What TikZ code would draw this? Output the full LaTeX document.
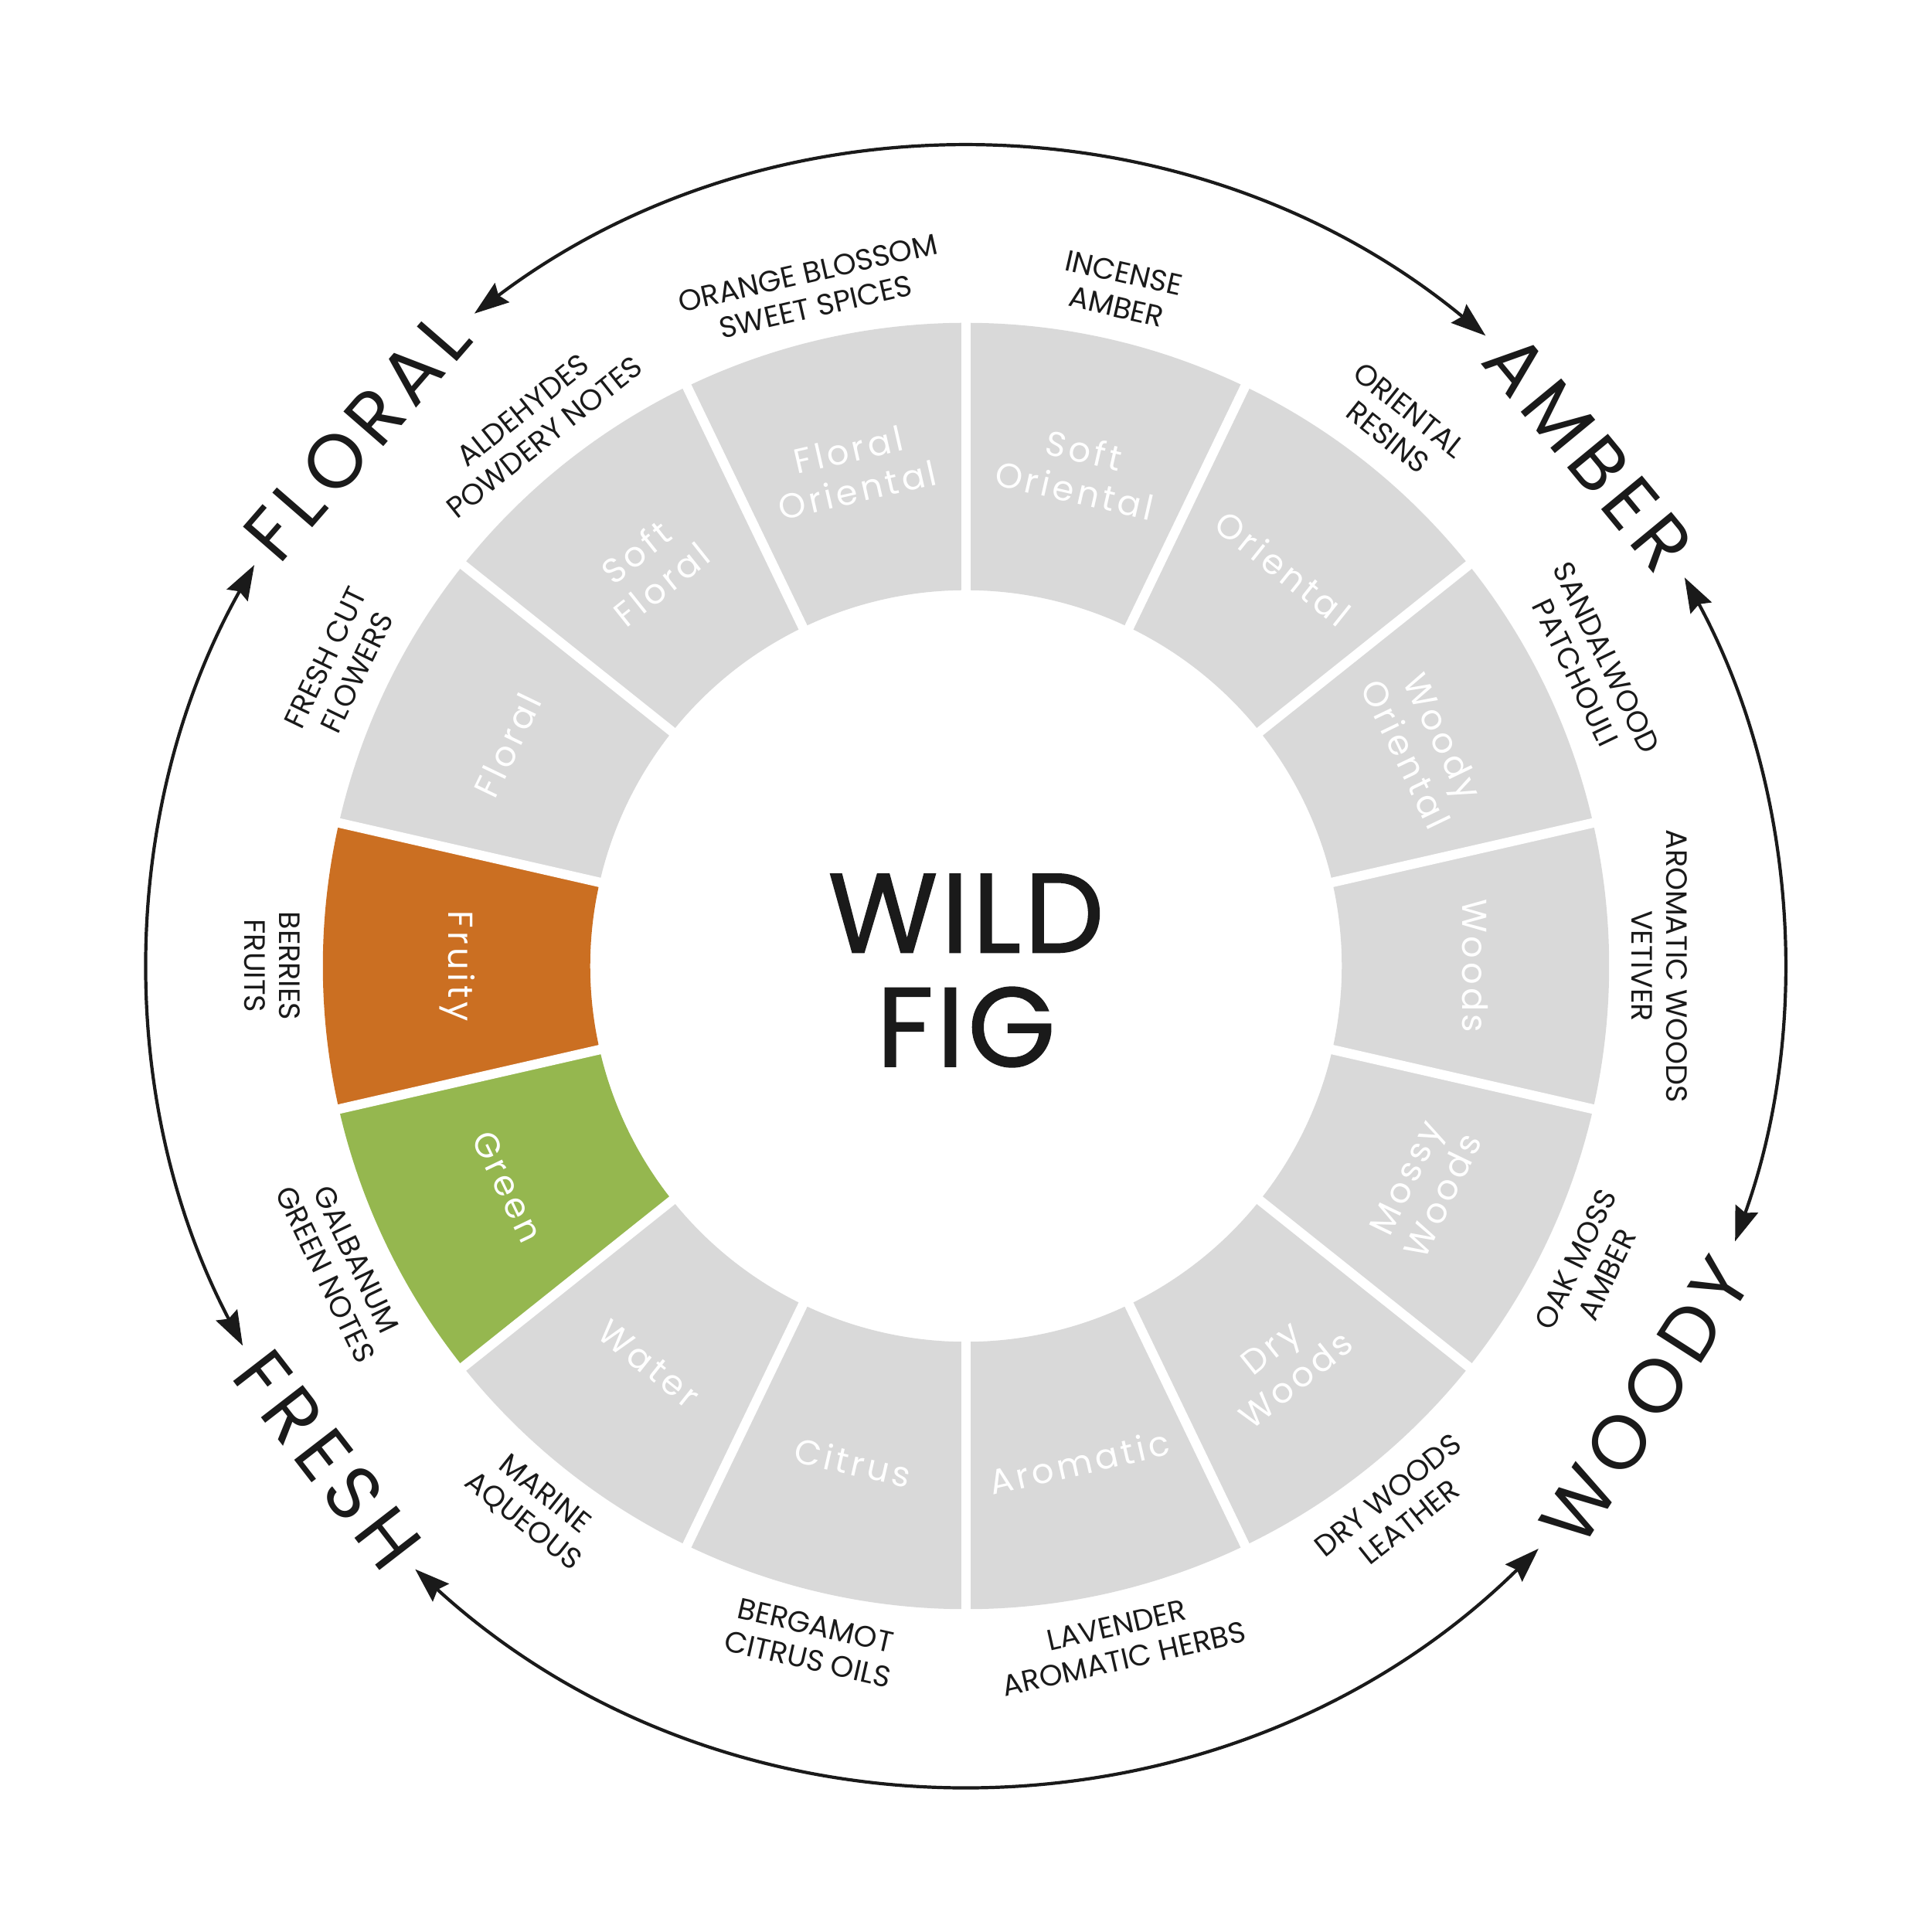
\documentclass[tikz,border=0pt]{standalone}
\usepackage{fontspec}
\setmainfont{Poppins}
\usetikzlibrary{arrows.meta}

\definecolor{wheelgray}{HTML}{D9D9D9}
\definecolor{fruityorange}{HTML}{CB6F22}
\definecolor{greengreen}{HTML}{95B74F}
\definecolor{inkblack}{HTML}{1A1A1A}

\tikzset{
    segtext/.style={text=white, align=center, inner sep=0pt,
        font=\fontsize{8}{9.5}\selectfont\addfontfeatures{LetterSpace=10}},
    notetext/.style={text=inkblack, align=center, inner sep=0pt,
        font=\fontsize{6.8}{8}\selectfont},
    cattext/.style={text=inkblack, inner sep=0pt,
        font=\fontsize{17.5}{18}\selectfont\addfontfeatures{LetterSpace=10}},
    titletext/.style={text=inkblack, inner sep=0pt,
        font=\fontsize{26}{26}\selectfont\addfontfeatures{LetterSpace=3,FakeBold=1.2}},
    gapline/.style={white, line width=2.2pt},
    arrowarc/.style={draw=inkblack, line width=0.75pt,
        {Stealth[length=8pt,width=5.5pt,inset=1pt]}-{Stealth[length=8pt,width=5.5pt,inset=1pt]}},
}

\begin{document}
\begin{tikzpicture}

    % Radii of the wheel
    \def\rin{3.05}
    \def\rout{5.22}
    \def\rseg{4.13}
    \def\rnote{5.63}
    \def\rcat{6.55}
    \def\rarc{6.63}
    \def\wedge{25.7142857}
    \coordinate (center) at (0., 0.);

    \useasboundingbox (-7.84, -7.84) rectangle (7.84, 7.84);

    % Segments, their names and notes
    \foreach \i/\segname/\notename/\segcol in {
        0/{Floral\\Oriental}/{ORANGE BLOSSOM\\SWEET SPICES}/wheelgray,
        1/{Soft\\Floral}/{ALDEHYDES\\POWDERY NOTES}/wheelgray,
        2/{Floral}/{FRESH CUT\\FLOWERS}/wheelgray,
        3/{Fruity}/{BERRIES\\FRUITS}/fruityorange,
        4/{Green}/{GALBANUM\\GREEN NOTES}/greengreen,
        5/{Water}/{MARINE\\AQUEOUS}/wheelgray,
        6/{Citrus}/{BERGAMOT\\CITRUS OILS}/wheelgray,
        7/{Aromatic}/{LAVENDER\\AROMATIC HERBS}/wheelgray,
        8/{Dry\\Woods}/{DRY WOODS\\LEATHER}/wheelgray,
        9/{Mossy\\Woods}/{OAK MOSS\\AMBER}/wheelgray,
        10/{Woods}/{AROMATIC WOODS\\VETIVER}/wheelgray,
        11/{Woody\\Oriental}/{SANDALWOOD\\PATCHOULI}/wheelgray,
        12/{Oriental}/{ORIENTAL\\RESINS}/wheelgray,
        13/{Soft\\Oriental}/{INCENSE\\AMBER}/wheelgray}{
        \pgfmathsetmacro\aa{90+\i*\wedge}
        \pgfmathsetmacro\ab{\aa+\wedge}
        \pgfmathsetmacro\am{\aa+\wedge/2}
        \pgfmathsetmacro\rot{ifthenelse(and(\i>2,\i<10),\am+90,\am-90)}
        \fill[\segcol] (\aa:\rin) arc[start angle=\aa, end angle=\ab, radius=\rin]
            -- (\ab:\rout) arc[start angle=\ab, end angle=\aa, radius=\rout] -- cycle;
        \node[segtext, rotate=\rot] (seg-\i) at (\am:\rseg) {\segname};
        \node[notetext, rotate=\rot] (note-\i) at (\am:\rnote) {\notename};
    }

    % White gaps between segments
    \foreach \k in {0,...,13}
        \draw[gapline] ({90+\k*\wedge}:2.9) -- ({90+\k*\wedge}:5.4);

    % Name in the middle
    \node[titletext, anchor=base] (title-wild) at (0., 0.11) {WILD};
    \node[titletext, anchor=base] (title-fig) at (0., -0.815) {FIG};

    % Families
    \node[cattext, rotate=49] (cat-floral) at (139:\rcat) {FLORAL};
    \node[cattext, rotate=-50.5] (cat-amber) at (39.5:\rcat) {AMBER};
    \node[cattext, rotate=57.4] (cat-woody) at (-32.6:\rcat) {WOODY};
    \node[cattext, rotate=-52.3] (cat-fresh) at (217.7:\rcat) {FRESH};

    % Arrows between the families
    \coordinate (floral-east) at (127:\rarc);
    \coordinate (amber-south) at (28.4:\rarc);
    \coordinate (woody-west) at (-45.5:\rarc);
    \coordinate (fresh-north) at (207.7:\rarc);
    \draw[arrowarc] (floral-east) arc[start angle=127, end angle=50.5, radius=\rarc];
    \draw[arrowarc] (amber-south) arc[start angle=28.4, end angle=-19.7, radius=\rarc];
    \draw[arrowarc] (woody-west) arc[start angle=-45.5, end angle=-132.4, radius=\rarc];
    \draw[arrowarc] (fresh-north) arc[start angle=207.7, end angle=150.6, radius=\rarc];

\end{tikzpicture}
\end{document}
